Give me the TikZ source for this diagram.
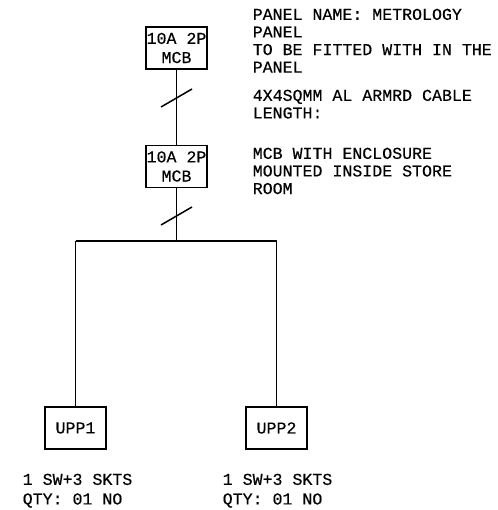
\documentclass[tikz,border=0pt]{standalone}
\usepackage{fontspec}
\setmainfont{Liberation Mono}[FakeBold=0.4]
\begin{document}
\begin{tikzpicture}[x=1pt,y=-1pt,line width=1.5pt,
	    every node/.style={font=\fontsize{16.6}{17.6}\selectfont},
	    breaker/.style={draw,minimum width=61pt,minimum height=42pt,inner sep=0pt,align=center},
	    socket/.style={draw,minimum width=61pt,minimum height=42pt,inner sep=0pt},
	    note/.style={anchor=north west,inner sep=0pt,align=left}]
	\path[use as bounding box] (0,0) rectangle (497,510);
	\node[breaker] (mcb1) at (176.5,48) {10A 2P\\[1.5pt]MCB};
	\node[breaker] (mcb2) at (176.5,166.5) {10A 2P\\[1.5pt]MCB};
	\node[socket] (upp1) at (75.5,428) {UPP1};
	\node[socket] (upp2) at (276.5,428) {UPP2};
	\coordinate (join) at (176.5,241);
	\coordinate (busl) at (75.5,241);
	\coordinate (busr) at (276.5,241);
	\coordinate (tick1a) at (161,107);
	\coordinate (tick1b) at (192,89);
	\coordinate (tick2a) at (161,225);
	\coordinate (tick2b) at (192,207);
	\draw (mcb1) -- (mcb2);
	\draw (mcb2) -- (join);
	\draw (tick1a) -- (tick1b);
	\draw (tick2a) -- (tick2b);
	\draw (busl) -- (busr);
	\draw (busl) -- (upp1);
	\draw (busr) -- (upp2);
	\node[note] (title) at (252,8) {PANEL NAME: METROLOGY\\PANEL\\TO BE FITTED WITH IN THE\\PANEL};
	\node[note] (cable) at (252,89) {4X4SQMM AL ARMRD CABLE\\LENGTH:};
	\node[note] (encl) at (252,147) {MCB WITH ENCLOSURE\\MOUNTED INSIDE STORE\\ROOM};
	\node[note] (qty1) at (22,473) {1 SW+3 SKTS\\[2pt]QTY: 01 NO};
	\node[note] (qty2) at (222,473) {1 SW+3 SKTS\\[2pt]QTY: 01 NO};
\end{tikzpicture}
\end{document}
